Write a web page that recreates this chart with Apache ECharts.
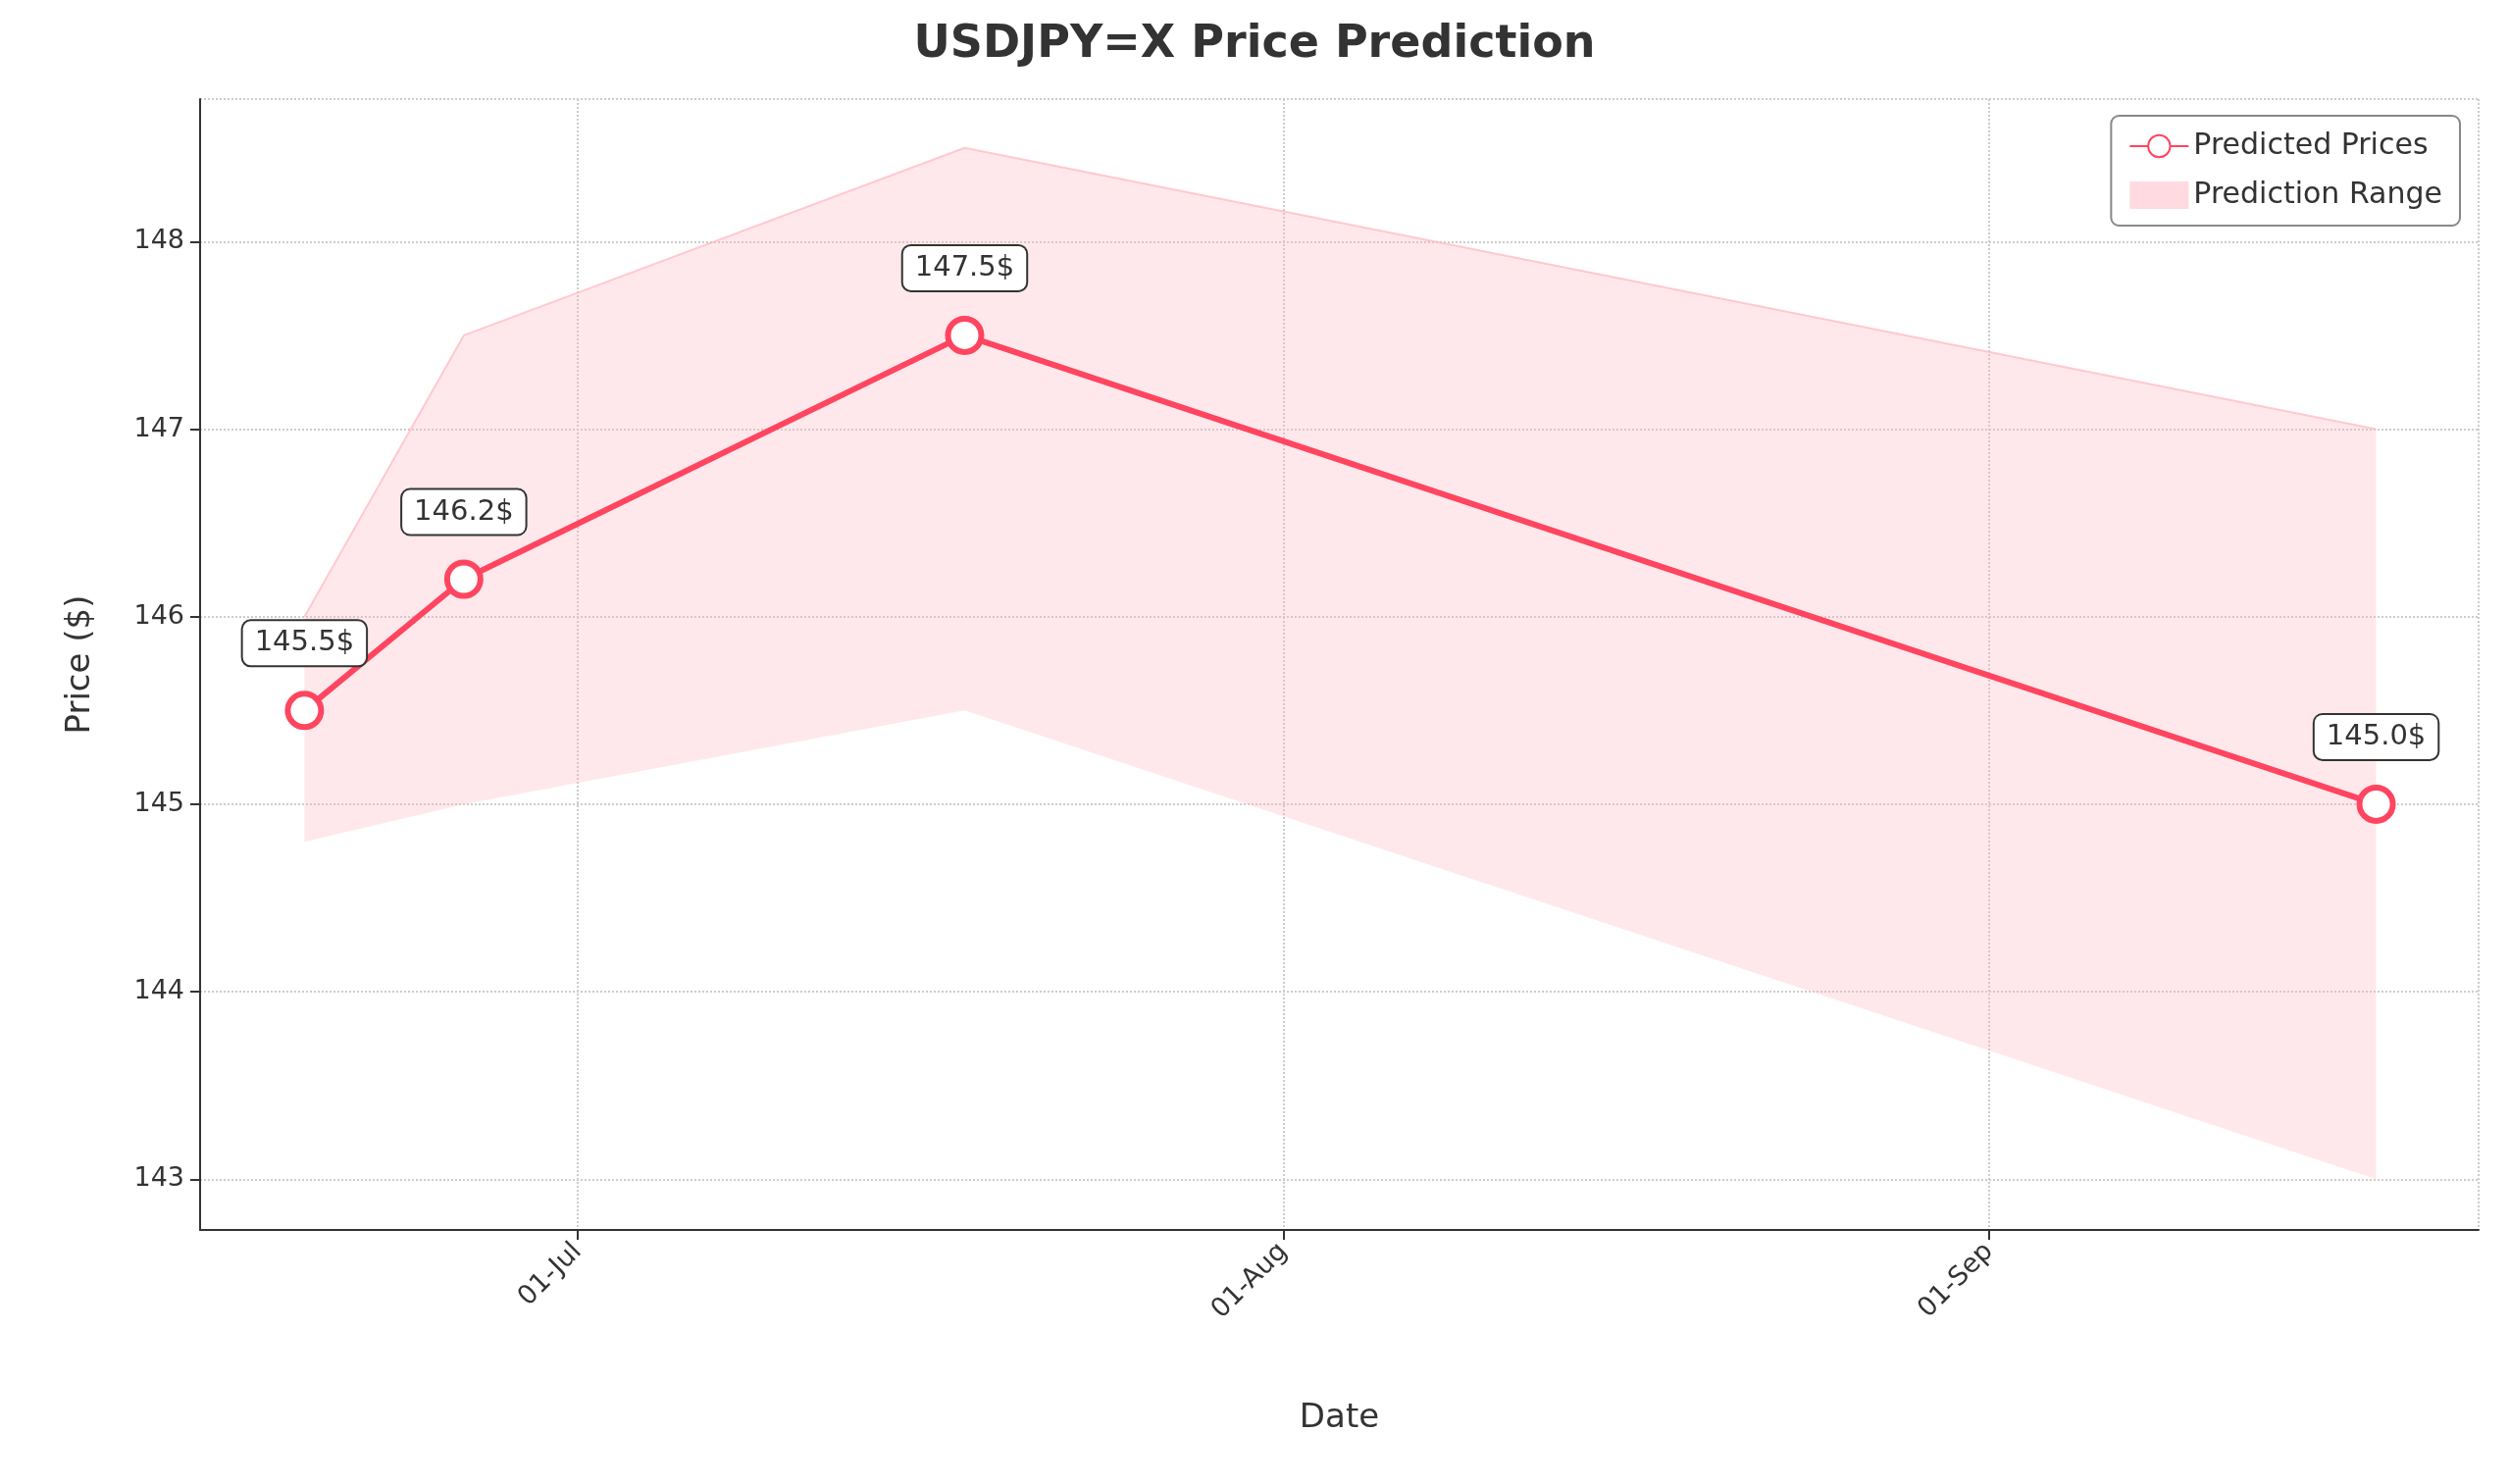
<!DOCTYPE html>
<html><head><meta charset="utf-8">
<script src="https://cdn.jsdelivr.net/npm/echarts@6/dist/echarts.min.js"></script>
<style>html,body{margin:0;background:#fff}#c{width:2558px;height:1513px}</style>
</head><body><div id="c"></div>
<script>
const dates = ['2024-06-19','2024-06-26','2024-07-18','2024-09-18'];
const predicted = [145.5, 146.2, 147.5, 145.0];
const upper = [146.0, 147.5, 148.5, 147.0];
const lower = [144.8, 145.0, 145.5, 143.0];
const yTicks = [143,144,145,146,147,148];

const t = d => new Date(d + 'T00:00:00Z').getTime();
const DAY = 86400000;
const chart = echarts.init(document.getElementById('c'));
const font = 'DejaVu Sans';
const isTick = v => yTicks.includes(Math.round(v*1000)/1000);
chart.setOption({
  useUTC: true,
  animation: false,
  textStyle: {fontFamily: font},
  title: {text: 'USDJPY=X Price Prediction', left: 'center', top: 18,
    textStyle: {fontSize: 46, fontWeight: 'bold', color: '#333', fontFamily: font}},
  grid: {left: 204, right: 31, top: 101, bottom: 259},
  legend: {
    right: 50, top: 118, orient: 'vertical', itemGap: 20,
    borderColor: '#888', borderWidth: 2, borderRadius: 8, padding: [16, 18],
    itemWidth: 60, itemHeight: 28,
    textStyle: {fontSize: 30, color: '#333'},
    data: [
      {name: 'Predicted Prices'},
      {name: 'Prediction Range', icon: 'rect', itemStyle: {color: 'rgba(255,182,193,0.5)'}}
    ]
  },
  xAxis: {
    type: 'time', name: 'Date', nameLocation: 'middle', nameGap: 175,
    nameTextStyle: {fontSize: 34, color: '#333'},
    min: t('2024-06-14') + 10*3600000, max: t('2024-09-22') + 12*3600000,
    minInterval: 28*DAY, maxInterval: 31*DAY,
    axisLine: {lineStyle: {color: '#333', width: 2}},
    axisTick: {show: true, length: 10, lineStyle: {color: '#333', width: 2}},
    axisLabel: {rotate: 45, fontSize: 27, color: '#333', margin: 18,
      formatter: v => { const d = new Date(v); const m=['Jan','Feb','Mar','Apr','May','Jun','Jul','Aug','Sep','Oct','Nov','Dec'][d.getUTCMonth()]; return String(d.getUTCDate()).padStart(2,'0') + '-' + m; }},
    splitLine: {show: true, lineStyle: {type: 'dotted', color: '#ccc', width: 2}}
  },
  yAxis: {
    type: 'value', name: 'Price ($)', nameLocation: 'middle', nameGap: 105,
    nameTextStyle: {fontSize: 34, color: '#333'},
    min: 142.73, max: 148.76,
    axisLine: {show: true, lineStyle: {color: '#333', width: 2}},
    axisTick: {show: true, length: 10, lineStyle: {color: '#333', width: 2}},
    axisLabel: {fontSize: 27, color: '#333', margin: 16, showMinLabel: false, showMaxLabel: false,
      formatter: v => isTick(v) ? String(Math.round(v)) : ''},
    splitLine: {show: true, lineStyle: {type: 'dotted', color: '#ccc', width: 2}}
  },
  series: [
    {name: 'lowerBase', type: 'line', stack: 'band', symbol: 'none', silent: true,
      lineStyle: {opacity: 0}, data: dates.map((d,i) => [t(d), lower[i]])},
    {name: 'Prediction Range', type: 'line', stack: 'band', symbol: 'none', silent: true,
      lineStyle: {color: 'rgba(255,182,193,0.7)', width: 2},
      itemStyle: {color: 'rgba(255,182,193,0.5)'},
      areaStyle: {color: 'rgba(255,182,193,0.45)'},
      data: dates.map((d,i) => [t(d), +(upper[i]-lower[i]).toFixed(2)])},
    {name: 'Predicted Prices', type: 'line', symbol: 'circle', symbolSize: 34,
      lineStyle: {color: '#ff4560', width: 6},
      itemStyle: {color: '#fff', borderColor: '#ff4560', borderWidth: 6},
      label: {show: true, position: 'top', distance: 26, fontSize: 29, color: '#333',
        formatter: p => p.value[1].toFixed(1) + '$',
        backgroundColor: '#fff', borderColor: '#333', borderWidth: 2, borderRadius: 8,
        padding: [8, 12]},
      z: 5,
      data: dates.map((d,i) => [t(d), predicted[i]])}
  ]
});
</script></body></html>
